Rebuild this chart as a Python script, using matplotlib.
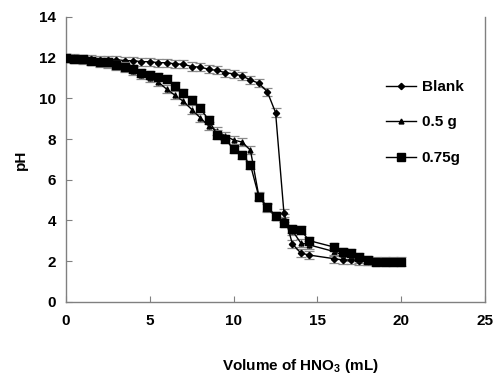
import numpy as np
import matplotlib
matplotlib.use("Agg")
import matplotlib.pyplot as plt

plt.rcParams["font.family"] = ["Liberation Sans", "DejaVu Sans"]
plt.rcParams["font.weight"] = "bold"
plt.rcParams["mathtext.fontset"] = "custom"
plt.rcParams["mathtext.bf"] = "Liberation Sans:bold"
plt.rcParams["mathtext.rm"] = "Liberation Sans:bold"

# volume of HNO3 (mL)
vol_blank = [0, 0.5, 1, 1.5, 2, 2.5, 3, 3.5, 4, 4.5, 5, 5.5, 6, 6.5, 7, 7.5, 8, 8.5, 9, 9.5,
             10, 10.5, 11, 11.5, 12, 12.5, 13, 13.5, 14, 14.5, 16, 16.5, 17, 17.5, 18]
ph_blank = [12.0, 12.0, 11.95, 11.95, 11.9, 11.9, 11.9, 11.85, 11.85, 11.8, 11.8, 11.75, 11.75,
            11.69, 11.67, 11.56, 11.53, 11.43, 11.37, 11.26, 11.2, 11.1, 10.9, 10.74, 10.33,
            9.3, 4.35, 2.85, 2.4, 2.3, 2.12, 2.06, 2.05, 2.02, 2.0]

vol_05 = [0, 0.5, 1, 1.5, 2, 2.5, 3, 3.5, 4, 4.5, 5, 5.5, 6, 6.5, 7, 7.5, 8, 8.5, 9, 9.5,
          10, 10.5, 11, 11.5, 12, 12.5, 13, 13.5, 14, 14.5, 16, 16.5, 17, 17.5, 18]
ph_05 = [12.0, 11.95, 11.9, 11.85, 11.75, 11.7, 11.6, 11.5, 11.35, 11.15, 11.0, 10.8, 10.45,
         10.15, 9.85, 9.45, 9.05, 8.65, 8.4, 8.15, 7.95, 7.85, 7.45, 5.2, 4.6, 4.2, 4.1,
         3.5, 2.9, 2.8, 2.47, 2.3, 2.2, 2.1, 2.02]

vol_075 = [0, 0.5, 1, 1.5, 2, 2.5, 3, 3.5, 4, 4.5, 5, 5.5, 6, 6.5, 7, 7.5, 8, 8.5, 9, 9.5,
           10, 10.5, 11, 11.5, 12, 12.5, 13, 13.5, 14, 14.5, 16, 16.5, 17, 17.5, 18, 18.5,
           19, 19.5, 20]
ph_075 = [11.97, 11.92, 11.92, 11.85, 11.8, 11.76, 11.64, 11.56, 11.43, 11.26, 11.15, 11.05,
          10.94, 10.6, 10.28, 9.9, 9.51, 8.95, 8.22, 7.99, 7.5, 7.22, 6.73, 5.17, 4.68, 4.22,
          3.87, 3.57, 3.54, 3.01, 2.69, 2.47, 2.39, 2.2, 2.06, 1.98, 1.98, 1.98, 1.98]

err_ph = 0.2

fig = plt.figure(figsize=(4.93, 3.75), dpi=100)
ax = fig.add_axes([0.134, 0.195, 0.85, 0.76])

common = dict(color="black", ecolor="#8a8a8a", elinewidth=0.9, capsize=3.5, capthick=0.9,
              linewidth=1.0, markeredgecolor="black")
ax.errorbar(vol_blank, ph_blank, yerr=err_ph, marker="D", markersize=3.2, label="Blank",
            zorder=3, **common)
ax.errorbar(vol_05, ph_05, yerr=err_ph, marker="^", markersize=3.5, label="0.5 g",
            zorder=2, **common)
ax.errorbar(vol_075, ph_075, yerr=err_ph, marker="s", markersize=5.5, label="0.75g",
            zorder=4, **common)

ax.set_xlim(0, 25)
ax.set_ylim(0, 14)
ax.set_xticks(np.arange(0, 26, 5))
ax.set_yticks(np.arange(0, 15, 2))

for side in ["left", "bottom", "right"]:
    ax.spines[side].set_color("#808080")
    ax.spines[side].set_linewidth(1.0)
ax.spines["top"].set_visible(False)

ax.tick_params(direction="in", length=4, color="#808080", labelsize=11)
ax.tick_params(axis="x", pad=9)
ax.tick_params(axis="y", pad=7)

ax.set_ylabel("pH", fontsize=11, fontweight="bold")
ax.yaxis.set_label_coords(-0.09, 0.5)
ax.set_xlabel("Volume of HNO$_\\mathbf{3}$ (mL)", fontsize=11, fontweight="bold", va="center")
ax.xaxis.set_label_coords(0.56, -0.225)

handles, labels = ax.get_legend_handles_labels()
handles = [h[0] for h in handles]
ax.legend(handles, labels, loc="upper left", bbox_to_anchor=(0.745, 0.805), frameon=False,
          fontsize=11, labelspacing=1.4, handlelength=2.0, handletextpad=0.35, borderpad=0)

fig.savefig("out.png", dpi=100)
